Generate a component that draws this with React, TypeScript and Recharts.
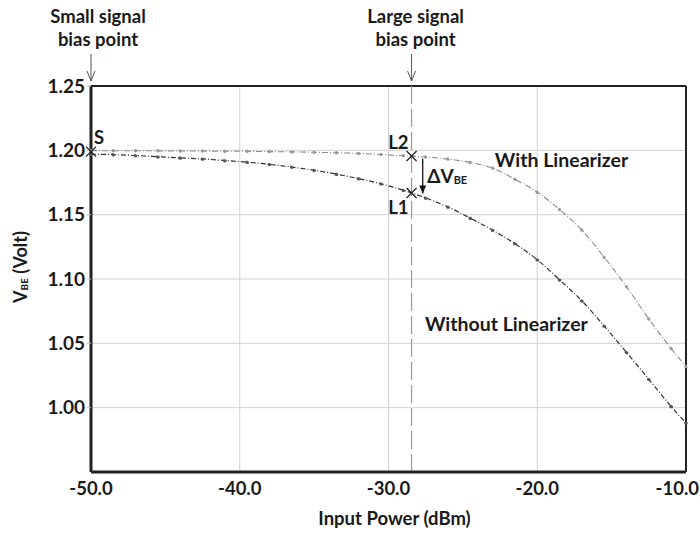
import React from 'react';
import {
  LineChart, Line, XAxis, YAxis, CartesianGrid, ReferenceLine, ReferenceDot,
} from 'recharts';

const inputPower = [-50, -48.5, -47, -45.5, -44, -42.5, -41, -39.5, -38, -36.5, -35, -33.5, -32, -30.5, -29, -27.5, -26, -24.5, -23, -21.5, -20, -18.5, -17, -15.5, -14, -12.5, -11, -10];
const withLinearizer = [1.1998, 1.1997, 1.1997, 1.1996, 1.1995, 1.1994, 1.1993, 1.1992, 1.199, 1.1988, 1.1985, 1.1981, 1.1976, 1.1968, 1.1958, 1.1948, 1.1932, 1.1906, 1.1862, 1.1775, 1.1675, 1.1540, 1.138, 1.117, 1.094, 1.069, 1.046, 1.032];
const withoutLinearizer = [1.197, 1.1967, 1.196, 1.195, 1.1941, 1.1933, 1.1921, 1.1908, 1.1891, 1.187, 1.1845, 1.1815, 1.178, 1.174, 1.169, 1.163, 1.156, 1.1473, 1.138, 1.1275, 1.115, 1.0994, 1.083, 1.0635, 1.043, 1.022, 1.001, 0.988];
const xTicks = [-50, -40, -30, -20, -10];
const yTicks = [1.0, 1.05, 1.1, 1.15, 1.2, 1.25];

const biasSmall = { x: -50, y: 1.199 };
const biasLarge = -28.45;
const pointL2 = { x: -28.45, y: 1.1956 };
const pointL1 = { x: -28.45, y: 1.1668 };
const deltaArrow = { x: -27.7, y1: 1.1935, y2: 1.1665 };
const withLabelPos = { x: -22.85, y: 1.1925 };
const withoutLabelPos = { x: -27.55, y: 1.0652 };
const deltaLabelPos = { x: -27.4, y: 1.1805 };

const data = inputPower.map((p, i) => ({ p, w: withLinearizer[i], wo: withoutLinearizer[i] }));

const FONT = 'Lato, "Open Sans", sans-serif';
const TXT = '#1a1a1a';

const Cross = (props: any) => {
  const { cx, cy } = props;
  const s = 5;
  return (
    <g stroke="#222" strokeWidth={1.3}>
      <line x1={cx - s} y1={cy - s} x2={cx + s} y2={cy + s} />
      <line x1={cx - s} y1={cy + s} x2={cx + s} y2={cy - s} />
    </g>
  );
};

const TextAt = (text: string, anchor: string, dx: number, dy: number, size = 19.5) => (props: any) => {
  const { cx, cy } = props;
  return (
    <text x={cx + dx} y={cy + dy} textAnchor={anchor} dominantBaseline="central" fontFamily={FONT} fontWeight={700} fontSize={size} fill={TXT}>
      {text}
    </text>
  );
};

const CrossWithLabel = (text: string, dx: number, dy: number, anchor: string) => (props: any) => {
  const { cx, cy } = props;
  return (
    <g>
      <Cross cx={cx} cy={cy} />
      <text x={cx + dx} y={cy + dy} textAnchor={anchor} dominantBaseline="central" fontFamily={FONT} fontWeight={700} fontSize={18.5} fill={TXT}>
        {text}
      </text>
    </g>
  );
};

const DeltaLabel = (props: any) => {
  const { cx, cy } = props;
  return (
    <text x={cx} y={cy} dominantBaseline="central" fontFamily={FONT} fontWeight={700} fontSize={19} fill={TXT}>
      ΔV<tspan fontSize={11} dy={4}>BE</tspan>
    </text>
  );
};

const ArrowHead = (props: any) => {
  const { cx, cy } = props;
  return <path d={`M${cx - 3.5},${cy - 8} L${cx},${cy} L${cx + 3.5},${cy - 8} Z`} fill="#111" />;
};

const BiasLabel = (l1: string, l2: string, dxText: number) => (props: any) => {
  const vb = props.viewBox || {};
  const x = vb.x;
  const top = vb.y;
  return (
    <g>
      <text x={x + dxText} y={top - 63} textAnchor="middle" fontFamily={FONT} fontWeight={700} fontSize={18.5} fill={TXT}>{l1}</text>
      <text x={x + dxText} y={top - 40} textAnchor="middle" fontFamily={FONT} fontWeight={700} fontSize={18.5} fill={TXT}>{l2}</text>
      <line x1={x} y1={top - 32} x2={x} y2={top - 5} stroke="#555" strokeWidth={1} />
      <polyline points={`${x - 4},${top - 15} ${x},${top - 5} ${x + 4},${top - 15}`} fill="none" stroke="#555" strokeWidth={1} />
    </g>
  );
};

const YLabel = (props: any) => {
  const vb = props.viewBox || {};
  const cx = 20;
  const cy = vb.y + vb.height / 2 - 12;
  return (
    <text x={cx} y={cy} transform={`rotate(-90 ${cx} ${cy})`} textAnchor="middle" dominantBaseline="central" fontFamily={FONT} fontWeight={700} fontSize={18} fill={TXT}>
      V<tspan fontSize={10} dy={4}>BE</tspan><tspan dy={-4}> (Volt)</tspan>
    </text>
  );
};

const XTick = (props: any) => {
  const { x, y, payload } = props;
  const last = payload.value === xTicks[xTicks.length - 1];
  return (
    <text x={last ? 699 : x} y={y + 12} textAnchor={last ? 'end' : 'middle'} fontFamily={FONT} fontWeight={700} fontSize={18.5} fill={TXT}>
      {Number(payload.value).toFixed(1)}
    </text>
  );
};

export default function App() {
  return (
    <div style={{ position: 'absolute', left: 0, top: 0 }}>
      <LineChart width={700} height={534} data={data} margin={{ top: 86, right: 14, bottom: 22, left: 31 }}>
        <CartesianGrid stroke="#d2d2d2" strokeWidth={1} horizontalValues={yTicks} verticalValues={xTicks} />
        <XAxis
          dataKey="p" type="number" domain={[-50, -10]} ticks={xTicks} height={40}
          tick={XTick}
          axisLine={{ stroke: '#222', strokeWidth: 3 }} tickLine={false} tickMargin={5}
          label={{ value: 'Input Power (dBm)', position: 'insideBottom', offset: -13, fontFamily: FONT, fontWeight: 700, fontSize: 18.5, fill: TXT, dx: 6 }}
        />
        <YAxis
          type="number" domain={[0.95, 1.25]} ticks={yTicks} width={60}
          tickFormatter={(v: number) => v.toFixed(2)}
          tick={{ fontFamily: FONT, fontWeight: 700, fontSize: 19, fill: TXT }}
          axisLine={{ stroke: '#222', strokeWidth: 3 }} tickLine={{ stroke: '#bbb' }} tickSize={4} tickMargin={2}
          label={{ content: YLabel }}
        />
        <ReferenceLine y={1.25} stroke="#222" strokeWidth={2} />
        <ReferenceLine x={-10} stroke="#222" strokeWidth={2} />
        <ReferenceLine x={biasSmall.x} stroke="none" label={{ content: BiasLabel('Small signal', 'bias point', 7) }} />
        <ReferenceLine x={biasLarge} stroke="#999" strokeWidth={1.2} strokeDasharray="18 5" label={{ content: BiasLabel('Large signal', 'bias point', 4) }} />
        <Line type="monotone" dataKey="w" stroke="#8a8a8a" strokeWidth={1.1} strokeDasharray="6 2 1 2"
          dot={{ r: 1.2, fill: '#999', stroke: '#999' }} isAnimationActive={false} />
        <Line type="monotone" dataKey="wo" stroke="#333" strokeWidth={1.2} strokeDasharray="5 2 1 2"
          dot={{ r: 1.3, fill: '#555', stroke: '#555' }} isAnimationActive={false} />
        <ReferenceLine segment={[{ x: deltaArrow.x, y: deltaArrow.y1 }, { x: deltaArrow.x, y: deltaArrow.y2 }]} stroke="#111" strokeWidth={1.3} />
        <ReferenceDot x={deltaArrow.x} y={deltaArrow.y2} shape={ArrowHead} />
        <ReferenceDot x={biasSmall.x} y={biasSmall.y} shape={CrossWithLabel('S', 3, -15, 'start')} />
        <ReferenceDot x={pointL2.x} y={pointL2.y} shape={CrossWithLabel('L2', -3, -14, 'end')} />
        <ReferenceDot x={pointL1.x} y={pointL1.y} shape={CrossWithLabel('L1', -3, 14, 'end')} />
        <ReferenceDot x={deltaLabelPos.x} y={deltaLabelPos.y} shape={DeltaLabel} />
        <ReferenceDot x={withLabelPos.x} y={withLabelPos.y} shape={TextAt('With Linearizer', 'start', 0, 0)} />
        <ReferenceDot x={withoutLabelPos.x} y={withoutLabelPos.y} shape={TextAt('Without Linearizer', 'start', 0, 0)} />
      </LineChart>
    </div>
  );
}
